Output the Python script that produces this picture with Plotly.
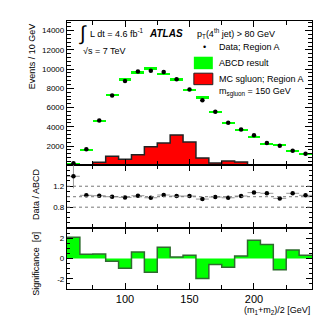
import plotly.graph_objects as go
from plotly.subplots import make_subplots

# ---------------- data ----------------
bin_edges = [55, 65, 75, 85, 95, 105, 115, 125, 135, 145, 155, 165, 175, 185, 195, 205, 215, 225, 235, 245]
bin_centers = [60, 70, 80, 90, 100, 110, 120, 130, 140, 150, 160, 170, 180, 190, 200, 210, 220, 230, 240]

data_A = [200, 1660, 4660, 7250, 8770, 9740, 9840, 9700, 8950, 7880, 6770, 5560, 4420, 3730, 3110, 2310, 2040, 1520, 1210]
abcd = [140, 1640, 4620, 7300, 8920, 9620, 10020, 9480, 8900, 7820, 7060, 5560, 4450, 3700, 2930, 2250, 2100, 1470, 1190]
abcd_unc = [60, 90, 110, 130, 140, 140, 150, 140, 140, 130, 120, 110, 100, 100, 90, 80, 80, 70, 70]
mc_sgluon = [0, 0, 310, 930, 620, 1100, 1930, 2310, 3140, 2420, 760, 240, 450, 345, 0, 0, 0, 0, 0]

ratio = [1.39, 1.026, 1.019, 1.0, 0.987, 1.019, 0.98, 1.032, 1.013, 1.013, 0.955, 0.994, 0.98, 1.013, 1.078, 1.065, 0.968, 1.065, 1.026]
ratio_err = [0.23, 0.02, 0.015, 0.012, 0.012, 0.012, 0.012, 0.012, 0.012, 0.012, 0.014, 0.015, 0.016, 0.018, 0.02, 0.022, 0.024, 0.026, 0.03]

significance = [2.1, 0.43, 0.46, -0.26, -0.95, 0.66, -1.34, 1.11, 0.16, 0.33, -1.97, -0.59, -0.85, 0.26, 1.8, 1.38, -1.11, 0.85, 0.33]

x_ticks = [100, 150, 200]

# ---------------- layout helpers ----------------
W, H = 331, 315
L, R, T, B = 59, 304.3, 12.7, 281.3
FONT = "Liberation Sans, Arial, Helvetica, sans-serif"


def px(x):
    return (x - L) / (R - L)


def py(y):
    return (B - y) / (B - T)


fig = make_subplots(rows=3, cols=1, shared_xaxes=True, vertical_spacing=0,
                    row_heights=[144.6, 63.0, 61.0])

half_w = [(bin_edges[i + 1] - bin_edges[i]) / 2 for i in range(len(bin_centers))]
widths = [bin_edges[i + 1] - bin_edges[i] for i in range(len(bin_centers))]

# MC sgluon step histogram
fig.add_trace(go.Scatter(x=bin_edges, y=mc_sgluon + [mc_sgluon[-1]], mode="lines",
                         line=dict(shape="hv", color="#222222", width=1.5),
                         fill="tozeroy", fillcolor="#ff0000", hoverinfo="skip"), row=1, col=1)
# ABCD result band
fig.add_trace(go.Bar(x=bin_centers, y=[2 * u for u in abcd_unc],
                     base=[a - u for a, u in zip(abcd, abcd_unc)], width=widths,
                     marker=dict(color="#00ff00", line=dict(width=0))), row=1, col=1)
# Data
fig.add_trace(go.Scatter(x=bin_centers, y=data_A, mode="markers",
                         marker=dict(color="black", size=4.5)), row=1, col=1)

# Ratio
fig.add_trace(go.Scatter(x=bin_centers, y=ratio, mode="markers",
                         marker=dict(color="black", size=4.5),
                         error_x=dict(type="data", array=half_w, color="#999999", thickness=1, width=0),
                         error_y=dict(type="data", array=ratio_err, color="#999999", thickness=1, width=0)),
              row=2, col=1)
for v in [0.8, 1.0, 1.2]:
    fig.add_shape(type="line", xref="x2 domain", yref="y2", x0=0, x1=1, y0=v, y1=v,
                  line=dict(color="#777777", width=1, dash="dot"))

# Significance
fig.add_trace(go.Scatter(x=bin_edges, y=significance + [significance[-1]], mode="lines",
                         line=dict(shape="hv", color="#2f6b2f", width=1.5),
                         fill="tozeroy", fillcolor="#00ff00", hoverinfo="skip"), row=3, col=1)

axis_common = dict(showline=True, linecolor="black", linewidth=1.3, mirror="ticks",
                   ticks="inside", tickcolor="black", tickwidth=1, showgrid=False, zeroline=False)

fig.update_xaxes(range=[55, 245], tickvals=x_ticks, ticklen=6,
                 minor=dict(dtick=25, tick0=0, ticks="inside", ticklen=4, tickcolor="black"),
                 **axis_common)
fig.update_xaxes(showticklabels=False, row=1, col=1)
fig.update_xaxes(showticklabels=False, row=2, col=1)
fig.update_xaxes(showticklabels=True, tickfont=dict(family=FONT, size=11, color="black"), row=3, col=1)

fig.update_yaxes(range=[0, 15000], tickvals=[2000, 4000, 6000, 8000, 10000, 12000, 14000],
                 ticktext=["2000", "4000", "6000", "8000", "10000", "12000", "14000"],
                 ticklen=7, minor=dict(dtick=400, ticks="inside", ticklen=4, tickcolor="black"),
                 tickfont=dict(family=FONT, size=8, color="black"), row=1, col=1, **axis_common)
fig.update_yaxes(range=[0.4, 1.6], tickvals=[0.8, 1.2], ticktext=["0.8", "1.2"], ticklen=6,
                 minor=dict(dtick=0.1, ticks="inside", ticklen=3, tickcolor="black"),
                 tickfont=dict(family=FONT, size=8, color="black"), row=2, col=1, **axis_common)
fig.update_yaxes(range=[-3, 3], tickvals=[-2, 0, 2], ticktext=["-2", "0", "2"], ticklen=6,
                 minor=dict(dtick=0.5, ticks="inside", ticklen=3, tickcolor="black"),
                 tickfont=dict(family=FONT, size=8, color="black"), row=3, col=1, **axis_common)

ann = []


def text(x, y, s, size=9, xanchor="left", yanchor="middle", angle=0):
    ann.append(dict(x=px(x), y=py(y), xref="paper", yref="paper", text=s, showarrow=False,
                    xanchor=xanchor, yanchor=yanchor, textangle=angle,
                    font=dict(family=FONT, size=size, color="black")))


# Axis titles
text(24, 13, "Events / 10 GeV", size=9, xanchor="center", yanchor="top", angle=-90)
text(28, 158, "Data / ABCD", size=9, xanchor="center", yanchor="top", angle=-90)
text(28, 222, "Significance  [σ]", size=9, xanchor="center", yanchor="top", angle=-90)
text(304, 303, "(m<sub>1</sub>+m<sub>2</sub>)/2 [GeV]", size=9, xanchor="right")

# Top-left labels
text(69, 25, "∫", size=20)
text(80, 25, "L dt = 4.6 fb<sup>-1</sup>", size=9)
text(139, 25, "<b><i>ATLAS</i></b>", size=10)
text(73, 43, "√s = 7 TeV", size=9)

# Legend
text(187, 25, "p<sub>T</sub>(4<sup>th</sup> jet) > 80 GeV", size=9)
text(193, 39, "•", size=9)
text(209, 39, "Data; Region A", size=9)
text(209, 54.5, "ABCD result", size=9)
text(209, 70.5, "MC sgluon; Region A", size=9)
text(209, 84, "m<sub>sgluon</sub> = 150 GeV", size=9)

fig.add_shape(type="rect", xref="paper", yref="paper", x0=px(186), x1=px(205), y0=py(61), y1=py(48.5),
              fillcolor="#00ff00", line=dict(width=0))
fig.add_shape(type="rect", xref="paper", yref="paper", x0=px(186), x1=px(205), y0=py(76.5), y1=py(65),
              fillcolor="#ff0000", line=dict(color="#222222", width=1))

fig.update_layout(width=W, height=H, margin=dict(l=L, r=W - R, t=T, b=H - B),
                  paper_bgcolor="white", plot_bgcolor="white", showlegend=False,
                  bargap=0, annotations=ann, font=dict(family=FONT, color="black"))

fig.write_html("out.html")
